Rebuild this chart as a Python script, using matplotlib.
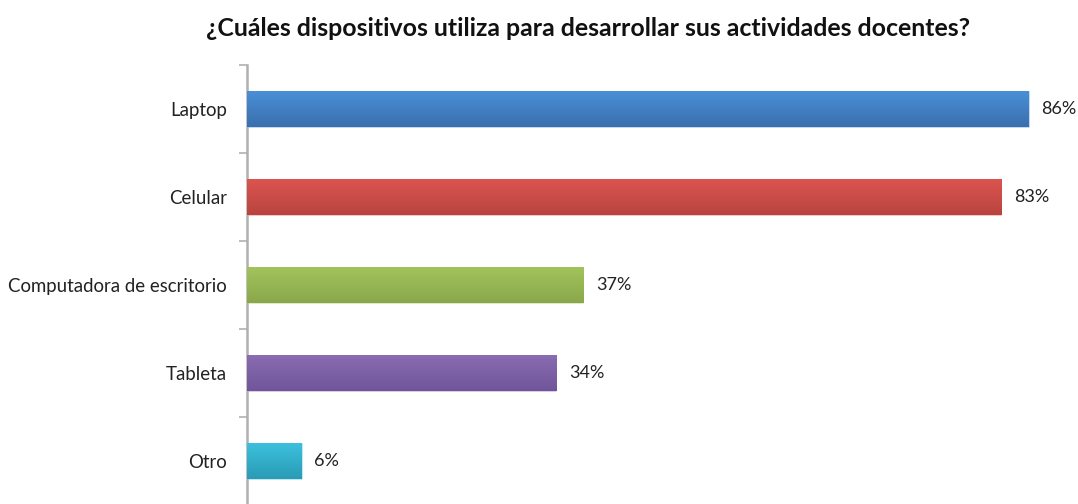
import matplotlib
matplotlib.use("Agg")
import matplotlib.pyplot as plt
import numpy as np
from matplotlib.colors import LinearSegmentedColormap, to_rgb

categories = ["Laptop", "Celular", "Computadora de escritorio", "Tableta", "Otro"]
values = [86, 83, 37, 34, 6]
colors_top = ["#4a8fd6", "#dc5450", "#a2c35c", "#8a6cb0", "#3cc0de"]
colors_bot = ["#3a6fae", "#b8443f", "#8aa84b", "#70559a", "#2a9bb5"]
title = "¿Cuáles dispositivos utiliza para desarrollar sus actividades docentes?"

plt.rcParams['font.family'] = ['Lato', 'DejaVu Sans']

fig = plt.figure(figsize=(10.78, 5.04), dpi=100)
W, H = 1078, 504
left, right, top, bottom = 247, 1065, 65, 505
ax = fig.add_axes([left / W, 1 - bottom / H, (right - left) / W, (bottom - top) / H])
ypos = np.arange(len(categories))

bars = ax.barh(ypos, values, height=0.4, color=colors_top, zorder=2)
for b, ct, cb in zip(bars, colors_top, colors_bot):
    cmap = LinearSegmentedColormap.from_list("g", [to_rgb(ct), to_rgb(cb)])
    grad = np.linspace(0, 1, 100).reshape(-1, 1)
    x0, y0 = b.get_x(), b.get_y()
    im = ax.imshow(grad, cmap=cmap, aspect="auto",
                   extent=(x0, x0 + b.get_width(), y0 + b.get_height(), y0),
                   zorder=3)
    im.set_clip_path(b)
    b.set_edgecolor((1, 1, 1, 0.4))
    b.set_linewidth(0.6)

ax.set_xlim(0, 90)
ax.set_ylim(len(categories) - 0.5, -0.5)

for y, v in zip(ypos, values):
    ax.text(v + 1.4, y, f"{v}%", va="center", ha="left", fontsize=13, color="#222222")

ax.set_yticks(ypos)
ax.set_yticklabels(categories, fontsize=13.4, color="#222222")
ax.set_yticks(np.arange(-0.5, len(categories), 1), minor=True)
ax.tick_params(axis="y", which="major", length=0, pad=14.5)
ax.tick_params(axis="y", which="minor", length=6, width=1.2, color="#b0b0b0")
ax.set_xticks([])
for s in ["top", "right", "bottom"]:
    ax.spines[s].set_visible(False)
ax.spines["left"].set_color("#b0b0b0")
ax.spines["left"].set_linewidth(1.8)

fig.text(588 / W, 1 - 28 / H, title, ha="center", va="center",
         fontsize=17.9, fontweight="bold", color="#111111")

fig.savefig("out.png", dpi=100)
